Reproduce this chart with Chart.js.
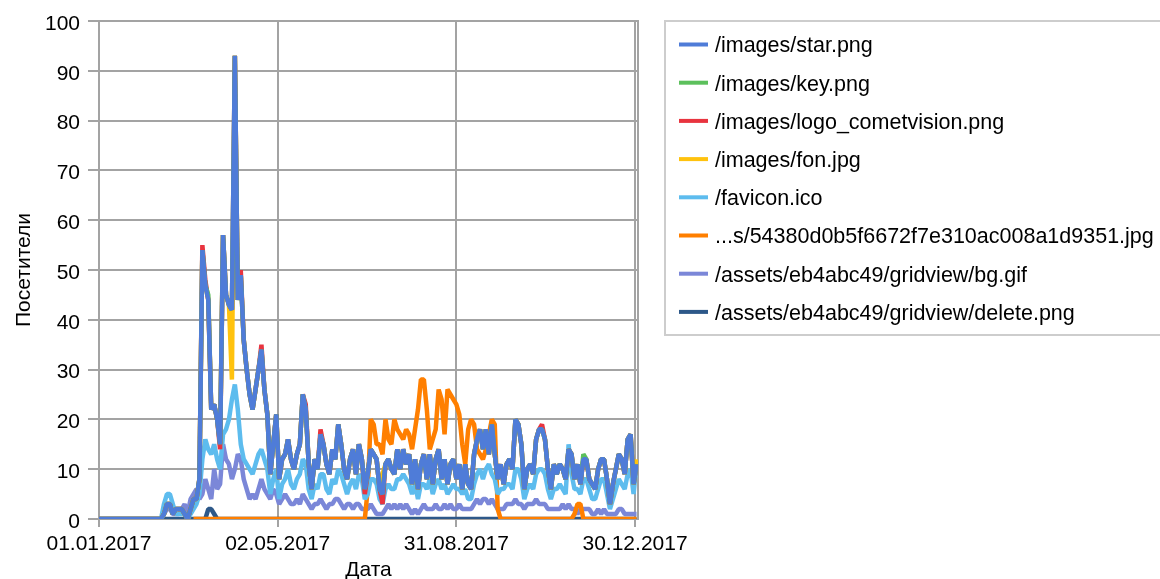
<!DOCTYPE html>
<html><head><meta charset="utf-8">
<script src="https://cdn.jsdelivr.net/npm/chart.js@4.4.1/dist/chart.umd.min.js"></script>
<style>html,body{margin:0;padding:0;background:#fff}canvas{display:block}</style>
</head><body>
<canvas id="c" width="1160" height="579"></canvas>
<script>
const seriesNames = ['/images/star.png','/images/key.png','/images/logo_cometvision.png','/images/fon.jpg','/favicon.ico','...s/54380d0b5f6672f7e310ac008a1d9351.jpg','/assets/eb4abc49/gridview/bg.gif','/assets/eb4abc49/gridview/delete.png'];
const seriesColors = ['#4f7cd8','#5cc05c','#e8343f','#ffc20e','#5dbcee','#ff7f00','#7b87d8','#2d5889'];
const tickDays = [0,121,242,363];
const tickLabels = ['01.01.2017','02.05.2017','31.08.2017','30.12.2017'];
const stepDays = 2;

const star = [0,0,0,0,0,0,0,0,0,0,
0,0,0,0,0,0,0,0,0,0,
0,0,1,3,3,1,2,2,2,1,
0,2,4,4,8,54,47,44,22,23,
20,15,57,45,43,42,93,44,49,36,
30,25,22,26,30,34,26,21,9,15,
21,8,12,13,16,12,10,13,15,25,
22,11,6,12,10,17,15,11,9,14,
12,19,15,10,8,12,14,9,15,12,
6,9,14,13,12,6,5,11,12,10,
9,14,10,14,11,13,7,12,6,11,
13,8,13,7,12,14,8,12,7,11,
12,8,11,6,11,7,6,13,16,18,
14,18,13,19,13,8,11,7,11,12,
10,20,19,15,6,10,11,9,16,18,
18,16,10,6,11,9,11,10,8,14,
13,8,11,7,12,12,8,7,6,10,
12,12,8,3,7,10,13,12,9,16,
17,7,11];
const keyPng = [0,0,0,0,0,0,0,0,0,0,
0,0,0,0,0,0,0,0,0,0,
0,0,1,3,3,1,2,2,2,1,
0,2,4,4,8,54,47,45,22,23,
20,15,57,45,43,42,93,44,49,36,
30,25,22,26,30,34,26,21,9,15,
21,8,12,13,16,12,10,13,15,25,
22,11,6,12,10,17,15,11,9,14,
12,19,15,10,8,12,14,9,15,12,
6,9,14,13,12,6,5,11,12,10,
9,14,10,14,11,13,7,12,6,11,
13,8,13,7,12,14,8,12,7,11,
12,8,11,6,11,7,6,13,16,18,
14,18,13,19,13,8,11,7,11,12,
10,20,19,15,6,10,11,9,16,18,
18,16,10,6,11,9,11,10,8,14,
13,8,11,7,13,12,8,7,6,10,
12,12,8,3,7,10,13,12,9,16,
17,7,11];
const logo = [0,0,0,0,0,0,0,0,0,0,
0,0,0,0,0,0,0,0,0,0,
0,0,1,3,3,1,2,2,2,1,
0,2,4,4,8,55,48,44,22,23,
20,14,57,45,43,42,93,44,50,36,
30,25,22,26,30,35,26,21,9,15,
21,8,12,13,16,12,10,13,15,25,
23,11,6,12,10,18,15,11,9,14,
12,19,15,10,8,12,14,9,15,12,
5,9,14,13,12,6,3,11,12,10,
9,14,10,14,11,13,7,12,6,11,
13,8,13,7,12,14,8,12,7,11,
12,8,11,6,11,7,6,13,16,18,
14,18,13,19,13,8,11,7,11,12,
10,20,19,15,6,10,11,9,16,18,
19,16,10,6,11,9,11,10,8,14,
13,8,11,7,12,12,8,7,6,10,
12,12,8,3,7,10,13,12,9,16,
17,7,11];
const fon = [0,0,0,0,0,0,0,0,0,0,
0,0,0,0,0,0,0,0,0,0,
0,0,1,3,3,1,2,2,2,1,
0,2,4,4,8,54,47,44,22,23,
20,15,57,45,43,28,93,44,49,36,
30,25,22,26,30,34,26,21,9,15,
21,8,12,13,16,12,10,13,15,25,
22,11,6,12,10,17,15,11,9,14,
12,19,15,10,8,12,14,9,15,12,
6,9,14,13,12,6,9,11,12,10,
9,14,10,14,11,13,7,12,6,11,
13,8,13,7,12,14,8,12,7,11,
12,8,11,6,11,7,6,13,16,18,
14,18,13,19,13,8,11,7,11,12,
10,20,19,15,6,10,11,9,16,18,
18,16,10,6,11,9,11,10,8,14,
13,8,11,7,12,12,8,7,6,10,
12,12,8,3,7,10,13,12,9,16,
17,7,12];
const favicon = [0,0,0,0,0,0,0,0,0,0,
0,0,0,0,0,0,0,0,0,0,
0,0,3,5,5,3,1,1,1,1,
0,1,2,3,5,12,16,14,13,15,
12,10,17,18,20,24,27,22,15,12,
11,10,9,11,13,14,12,10,5,8,
10,4,7,8,10,7,6,8,9,12,
11,6,4,7,6,9,9,6,5,8,
7,10,9,7,5,7,8,6,9,8,
4,5,8,8,7,4,3,6,7,6,
6,8,8,9,8,7,5,7,4,7,
7,6,8,5,7,8,6,7,5,6,
7,6,6,5,6,4,4,7,9,10,
8,10,11,9,8,5,6,6,7,7,
6,10,10,8,4,6,7,6,9,10,
10,9,6,4,6,6,7,6,5,15,
9,6,6,5,8,8,6,4,4,6,
8,8,5,2,4,6,8,7,6,9,
10,5,11];
const hashJpg = [null,null,null,null,null,null,null,null,null,null,
null,null,null,null,null,null,null,null,null,null,
null,null,null,null,null,null,null,null,null,null,
null,null,0,0,0,0,0,0,0,0,
0,0,0,0,0,0,0,0,0,0,
0,0,0,0,0,0,0,0,0,0,
0,0,0,0,0,0,0,0,0,0,
0,0,0,0,0,0,0,0,0,0,
0,0,0,0,0,0,0,0,0,0,
0,6,20,19,15,15,13,20,16,15,
20,18,17,16,18,17,14,18,22,28,
28,22,14,16,18,26,24,17,26,25,
24,23,21,15,11,18,20,19,14,13,
12,14,17,20,19,2,0,0,0,0,
0,0,0,0,0,0,0,0,0,0,
0,0,0,0,0,0,0,0,0,0,
0,1,3,3,0,0,0,0,0,0,
0,0,0,0,0,0,0,0,0,0,
0,0,0];
const bgGif = [0,0,0,0,0,0,0,0,0,0,
0,0,0,0,0,0,0,0,0,0,
0,0,1,2,2,1,1,1,2,3,
1,4,5,6,4,5,8,6,4,10,
6,7,15,12,11,8,10,13,12,8,
6,4,5,4,6,8,6,5,4,6,
5,3,4,5,4,3,3,4,3,5,
4,3,2,3,3,4,3,2,3,3,
4,4,3,2,3,3,2,3,3,2,
2,2,3,2,1,1,1,2,3,2,
3,2,3,2,3,2,1,2,1,2,
3,2,2,2,3,2,2,3,2,3,
2,2,3,2,2,2,2,3,4,3,
4,4,3,4,3,2,2,2,3,3,
3,4,3,3,2,3,3,3,4,3,
3,3,2,2,2,2,2,3,2,3,
2,2,1,2,2,2,2,1,1,2,
1,2,1,1,1,1,2,2,1,1,
1,1,1];
const deletePng = [0,0,0,0,0,0,0,0,0,0,
0,0,0,0,0,0,0,0,0,0,
0,0,0,0,0,0,0,0,0,0,
0,0,0,0,0,0,0,2,2,1,
0,0,0,0,0,0,0,0,0,0,
0,0,0,0,0,0,0,0,0,0,
0,0,0,0,0,0,0,0,0,0,
0,0,0,0,0,0,0,0,0,0,
0,0,0,0,0,0,0,0,0,0,
0,0,0,0,0,0,0,0,0,0,
0,0,0,0,0,0,0,0,0,0,
0,0,0,0,0,0,0,0,0,0,
0,0,0,0,0,0,0,0,0,0,
0,0,0,0,0,0,0,0,0,0,
0,0,0,0,0,0,0,0,0,0,
0,0,0,0,0,0,0,0,0,0,
0,0,0,0,0,0,0,0,0,0,
0,0,0,0,0,0,0,0,0,0,
0,0,0];

const seriesValues = [star, keyPng, logo, fon, favicon, hashJpg, bgGif, deletePng];
const days = star.map((v, i) => i * stepDays);

const FONT_FAMILY = "'Liberation Sans', Arial, sans-serif";
const AXIS_SIZE = 21;
const LEGEND_SIZE = 21.5;
const GRID = '#a3a3a3';

const frame = {
  id: 'frame',
  beforeDatasetsDraw(chart) {
    const a = chart.chartArea, ctx = chart.ctx;
    ctx.save();
    ctx.strokeStyle = GRID; ctx.lineWidth = 2;
    ctx.strokeRect(a.left, a.top, a.right - a.left, a.bottom - a.top);
    ctx.restore();
  }
};
const legendBox = {
  id: 'legendBox',
  afterDraw(chart) {
    const ctx = chart.ctx;
    ctx.save();
    ctx.strokeStyle = '#cdcdcd'; ctx.lineWidth = 2;
    ctx.strokeRect(665, 21, 520, 314);
    ctx.font = LEGEND_SIZE + 'px ' + FONT_FAMILY;
    ctx.textBaseline = 'middle';
    chart.data.datasets.forEach((ds, i) => {
      const y = 44.5 + i * 38.2;
      ctx.fillStyle = ds.borderColor;
      ctx.fillRect(679, y - 2, 29, 4);
      ctx.fillStyle = '#000';
      ctx.fillText(ds.label, 715, y + 2);
    });
    ctx.restore();
  }
};

new Chart(document.getElementById('c'), {
  type: 'line',
  data: {
    datasets: seriesNames.map((name, k) => ({
      label: name,
      data: days.map((d, i) => ({x: d, y: seriesValues[k][i]})),
      borderColor: seriesColors[k],
      backgroundColor: seriesColors[k],
      borderWidth: 4.5,
      borderJoinStyle: 'bevel',
      pointRadius: 0,
      tension: 0,
      fill: false,
      spanGaps: false
    }))
  },
  options: {
    responsive: false,
    animation: false,
    layout: {padding: {left: 0, right: 522, top: 21, bottom: 0}},
    plugins: {legend: {display: false}, tooltip: {enabled: false}},
    scales: {
      x: {
        type: 'linear', min: 0, max: 365,
        afterBuildTicks: s => { s.ticks = tickDays.map(v => ({value: v})); },
        afterFit: s => { s.height = 60; },
        ticks: {
          autoSkip: false, maxRotation: 0, padding: 5, color: '#000',
          font: {family: FONT_FAMILY, size: AXIS_SIZE},
          callback: v => tickLabels[tickDays.indexOf(v)]
        },
        grid: {color: GRID, lineWidth: 2, tickLength: 8},
        border: {display: false},
        title: {display: true, text: 'Дата', color: '#000', padding: {top: 0, bottom: -2},
          font: {family: FONT_FAMILY, size: AXIS_SIZE, lineHeight: 1}}
      },
      y: {
        min: 0, max: 100,
        afterFit: s => { s.width = 99; },
        ticks: {stepSize: 10, padding: 8, color: '#000', labelOffset: 3,
          font: {family: FONT_FAMILY, size: AXIS_SIZE}},
        grid: {color: GRID, lineWidth: 2, tickLength: 11},
        border: {display: false},
        title: {display: true, text: 'Посетители', color: '#000', padding: 14,
          font: {family: FONT_FAMILY, size: AXIS_SIZE, lineHeight: 1}}
      }
    }
  },
  plugins: [frame, legendBox]
});
</script>
</body></html>
